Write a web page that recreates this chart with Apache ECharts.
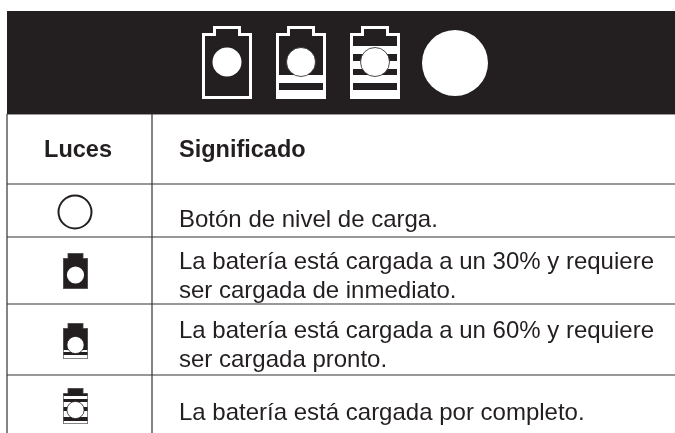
<!DOCTYPE html>
<html>
<head>
<meta charset="utf-8">
<style>
  html, body { margin: 0; padding: 0; background: #fff; }
  #chart { width: 675px; height: 433px; }
</style>
</head>
<body>
<div id="chart"></div>
<script src="https://cdn.jsdelivr.net/npm/echarts@6/dist/echarts.min.js"></script>
<script>
// table content
const tableHeaders = ['Luces', 'Significado']
const meaningLines = [
  ['Botón de nivel de carga.'],
  ['La batería está cargada a un 30% y requiere', 'ser cargada de inmediato.'],
  ['La batería está cargada a un 60% y requiere', 'ser cargada pronto.'],
  ['La batería está cargada por completo.']
]
const rowLights = ['ring', 1, 2, 3]
const headerLights = [1, 2, 3, 'disc']

// layout, in page pixels on the hidden axes
const INK = '#231f20'
const rowLines = [114, 184, 237, 304, 375]
const lineBaselines = [[227], [269, 298], [338, 367], [420]]
const rowIconTops = [null, 253, 323, 388]
const headerIconX = [227, 301, 375, 455]

// the big header battery and the small row battery are not drawn the same,
// so each gets its own proportions (units are px of the drawn icon)
const bigBattery = {
  width: 50, height: 73, neck: 14, shoulder: 7, circleY: 36, r: 14.5, stroke: 3, edge: '#fff',
  bands: {
    1: [],
    2: [[49, 57], [64, 73]],
    3: [[20, 28], [35, 43], [49, 57], [64, 73]]
  }
}
const smallBattery = {
  width: 25, height: 36, neck: 8, shoulder: 5, circleY: 22, r: 8.6, stroke: 0.7, edge: '#666',
  bands: {
    1: [],
    2: [[27, 29], [32, 36]],
    3: [[8, 11], [14, 19], [23, 29], [33, 37]]
  }
}

function batteryOutline(cx, top, spec, inset) {
  const hw = spec.width / 2 - inset
  const nw = spec.neck - inset
  const y0 = top + inset
  const y1 = top + spec.shoulder + inset
  const y2 = top + spec.height - inset
  return [
    [cx - nw, y0], [cx + nw, y0], [cx + nw, y1], [cx + hw, y1],
    [cx + hw, y2], [cx - hw, y2], [cx - hw, y1], [cx - nw, y1]
  ]
}

function battery(api, cx, top, level, spec) {
  const toPx = p => api.coord(p)
  const hw = spec.width / 2 - spec.stroke
  const parts = [
    { type: 'polygon', shape: { points: batteryOutline(cx, top, spec, 0).map(toPx) }, style: { fill: spec.edge } },
    { type: 'polygon', shape: { points: batteryOutline(cx, top, spec, spec.stroke).map(toPx) }, style: { fill: INK } }
  ]
  spec.bands[level].forEach(b => {
    const a = api.coord([cx - hw, top + b[0]])
    const c = api.coord([cx + hw, top + Math.min(b[1], spec.height - spec.stroke)])
    parts.push({ type: 'rect', shape: { x: a[0], y: a[1], width: c[0] - a[0], height: c[1] - a[1] }, style: { fill: '#fff' } })
  })
  const o = api.coord([cx, top + spec.circleY])
  parts.push({
    type: 'circle',
    shape: { cx: o[0], cy: o[1], r: spec.r },
    style: { fill: '#fff', stroke: level === 1 ? null : INK, lineWidth: 0.8 }
  })
  return parts
}

function renderHeaderBar(params, api) {
  const a = api.coord([7, 11])
  const b = api.coord([675, 114])
  return { type: 'rect', shape: { x: a[0], y: a[1], width: b[0] - a[0], height: b[1] - a[1] }, style: { fill: INK } }
}

function renderRules(params, api) {
  const y = rowLines[api.value(0)]
  const a = api.coord([7, y])
  const b = api.coord([675, y])
  return { type: 'line', shape: { x1: a[0], y1: a[1], x2: b[0], y2: b[1] }, style: { stroke: '#333', lineWidth: 1.2 } }
}

function renderColumns(params, api) {
  const x = api.value(0)
  const a = api.coord([x, 114])
  const b = api.coord([x, 433])
  return { type: 'line', shape: { x1: a[0], y1: a[1], x2: b[0], y2: b[1] }, style: { stroke: '#333', lineWidth: 1.2 } }
}

function renderHeaderIcon(params, api) {
  const kind = headerLights[params.dataIndex]
  const cx = headerIconX[params.dataIndex]
  if (kind === 'disc') {
    const o = api.coord([cx, 63])
    return { type: 'circle', shape: { cx: o[0], cy: o[1], r: 33 }, style: { fill: '#fff' } }
  }
  return { type: 'group', children: battery(api, cx, 26, kind, bigBattery) }
}

function renderRowIcon(params, api) {
  const kind = rowLights[params.dataIndex]
  if (kind === 'ring') {
    const o = api.coord([75, 212])
    return { type: 'circle', shape: { cx: o[0], cy: o[1], r: 16.5 }, style: { fill: '#fff', stroke: INK, lineWidth: 2 } }
  }
  return { type: 'group', children: battery(api, 75.5, rowIconTops[params.dataIndex], kind, smallBattery) }
}

function textItem(api, text, x, baseline, font, align) {
  const p = api.coord([x, baseline])
  return {
    type: 'text',
    style: { text, x: p[0], y: p[1] - 7, font, fill: INK, align: align, verticalAlign: 'middle' }
  }
}

function renderHeaderText(params, api) {
  const font = 'bold 23.5px "Liberation Sans", Arial, sans-serif'
  return params.dataIndex === 0
    ? textItem(api, tableHeaders[0], 78, 158, font, 'center')
    : textItem(api, tableHeaders[1], 179, 158, font, 'left')
}

function renderMeaning(params, api) {
  const i = params.dataIndex
  return {
    type: 'group',
    children: meaningLines[i].map((line, k) =>
      textItem(api, line, 179, lineBaselines[i][k], '24px "Liberation Sans", Arial, sans-serif', 'left'))
  }
}

const chart = echarts.init(document.getElementById('chart'))
const custom = (renderItem, data) => ({
  type: 'custom',
  coordinateSystem: 'cartesian2d',
  renderItem,
  data,
  silent: true,
  animation: false,
  clip: false
})

chart.setOption({
  animation: false,
  backgroundColor: '#fff',
  grid: { left: 0, right: 0, top: 0, bottom: 0 },
  xAxis: { type: 'value', min: 0, max: 675, show: false },
  yAxis: { type: 'value', min: 0, max: 433, inverse: true, show: false },
  series: [
    custom(renderColumns, [7, 152].map(x => [x])),
    custom(renderRules, rowLines.map((y, i) => [i])),
    custom(renderHeaderBar, [[0]]),
    custom(renderHeaderIcon, headerLights.map((k, i) => [i])),
    custom(renderHeaderText, tableHeaders.map((t, i) => [i])),
    custom(renderRowIcon, rowLights.map((k, i) => [i])),
    custom(renderMeaning, meaningLines.map((l, i) => [i]))
  ]
})
</script>
</body>
</html>
